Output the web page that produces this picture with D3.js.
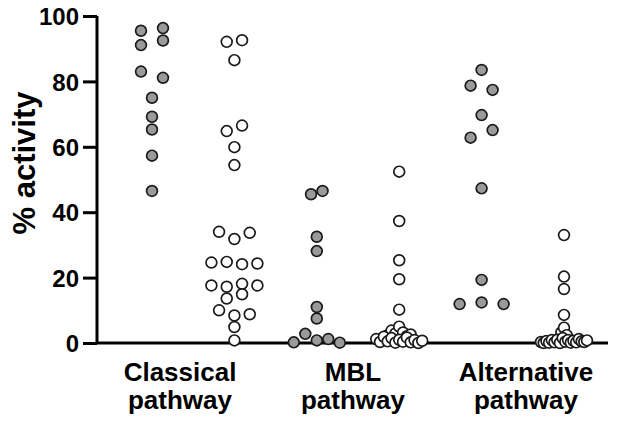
<!DOCTYPE html>
<html>
<head>
<meta charset="utf-8">
<script src="https://cdn.jsdelivr.net/npm/d3@7"></script>
<style>
  body { margin: 0; background: #fff; }
  text { font-family: "Liberation Sans", Arial, sans-serif; font-weight: bold; fill: #000; }
</style>
</head>
<body>
<div id="chart"></div>
<script>
// group labels (two lines each)
var groupNames = ["Classical", "MBL", "Alternative"];
var groupLabels = [["Classical", "pathway"], ["MBL", "pathway"], ["Alternative", "pathway"]];
var yTicks = [0, 20, 40, 60, 80, 100];

// % activity per subject, filled (grey) and open series for each pathway
var classicalGray = [95.5, 96.3, 91.1, 92.5, 83.0, 81.1, 75.0, 69.2, 65.3, 57.3, 46.5];
var classicalOpen = [92.1, 92.6, 86.5, 64.8, 66.5, 59.9, 54.4, 34.0, 31.8, 33.7, 24.6, 24.8, 24.1, 24.3,
    17.6, 17.2, 18.1, 17.6, 13.6, 14.9, 10.0, 8.4, 8.8, 4.9, 0.8];
var mblGray = [45.5, 46.5, 32.5, 28.1, 11.0, 7.5, 0.2, 2.8, 0.8, 1.2, 0.1];
var mblOpen = [52.4, 37.3, 25.3, 19.5, 10.2, 2.4, 3.8, 2.9, 5.0, 3.2, 2.1, 2.6,
    1.2, 0.3, 1.9, 0.5, 1.5, 0.1, 1.0, 0.4, 1.7, 0.2, 0.9, 0.0, 0.7];
var altGray = [83.5, 78.7, 77.4, 69.7, 62.8, 65.1, 47.3, 19.3, 11.9, 12.4, 11.9];
var altOpen = [33.0, 20.3, 16.5, 8.6, 3.2, 4.7, 2.4,
    0.3, 0.0, 0.6, 0.1, 0.9, 0.2, 1.0, 0.0, 1.5, 0.4, 0.9, 0.1, 0.7, 0.2, 1.2, 0.5, 0.3, 0.8];

var series = [
    { key: "cg", values: classicalGray, filled: true },
    { key: "co", values: classicalOpen, filled: false },
    { key: "mg", values: mblGray, filled: true },
    { key: "mo", values: mblOpen, filled: false },
    { key: "ag", values: altGray, filled: true },
    { key: "ao", values: altOpen, filled: false }
];

var width = 618, height = 421;

var svg = d3.select("#chart").append("svg")
    .attr("width", width)
    .attr("height", height);

var x = d3.scalePoint()
    .domain(series.map(function (d) { return d.key; }))
    .range([152, 564]);

// label positions under each pathway
var xLabel = d3.scalePoint()
    .domain(groupNames)
    .range([180, 526]);

var y = d3.scaleLinear()
    .domain([0, 100])
    .range([343, 16]);

var axisX0 = 97;

// y axis
var yAxis = svg.append("g")
    .attr("transform", "translate(" + axisX0 + ",0)")
    .call(d3.axisLeft(y).tickValues(yTicks).tickSize(14).tickPadding(4));
yAxis.select(".domain").attr("d", "M0," + y(100) + "V" + y(0)).attr("stroke-width", 3);
yAxis.selectAll(".tick line").attr("stroke-width", 3);
yAxis.selectAll(".tick text").style("font-size", "24px").attr("dy", "0.36em");

// x axis baseline
svg.append("line")
    .attr("x1", axisX0 - 1.5).attr("x2", 608)
    .attr("y1", y(0)).attr("y2", y(0))
    .attr("stroke", "#000").attr("stroke-width", 3);

// y label
svg.append("text")
    .attr("transform", "translate(35,163) rotate(-90)")
    .attr("text-anchor", "middle")
    .style("font-size", "31px")
    .text("% activity");

// group labels
groupLabels.forEach(function (lines, i) {
    var cx = xLabel(groupNames[i]);
    lines.forEach(function (s, j) {
        svg.append("text")
            .attr("x", cx)
            .attr("y", 381 + j * 28)
            .attr("text-anchor", "middle")
            .style("font-size", "26px")
            .text(s);
    });
});

// rows of nearby values spread sideways (Prism-like scatter)
function spread(values) {
    var idx = values.map(function (v, i) { return i; })
        .sort(function (a, b) { return values[b] - values[a] || a - b; });
    var rows = [], cur = null;
    idx.forEach(function (i) {
        if (!cur || values[cur.start] - values[i] > 3) {
            cur = { start: i, members: [] };
            rows.push(cur);
        }
        cur.members.push(i);
    });
    var maxRow = d3.max(rows, function (r) { return r.members.length; });
    var step = maxRow > 1 ? Math.min(22, 46 / (maxRow - 1)) : 0;
    var offs = new Array(values.length);
    rows.forEach(function (r) {
        r.members.sort(function (a, b) { return a - b; });
        var n = r.members.length;
        r.members.forEach(function (i, k) { offs[i] = (k - (n - 1) / 2) * step; });
    });
    return offs;
}

series.forEach(function (s) {
    var offs = spread(s.values);
    var pts = s.values.map(function (v, i) { return { v: v, dx: offs[i] }; });
    svg.append("g").selectAll("circle")
        .data(pts)
        .join("circle")
        .attr("cx", function (d) { return x(s.key) + d.dx; })
        .attr("cy", function (d) { return y(d.v); })
        .attr("r", 5.4)
        .attr("fill", s.filled ? "#9a9a9a" : "#fff")
        .attr("stroke", "#1a1a1a")
        .attr("stroke-width", 1.7);
});
</script>
</body>
</html>
